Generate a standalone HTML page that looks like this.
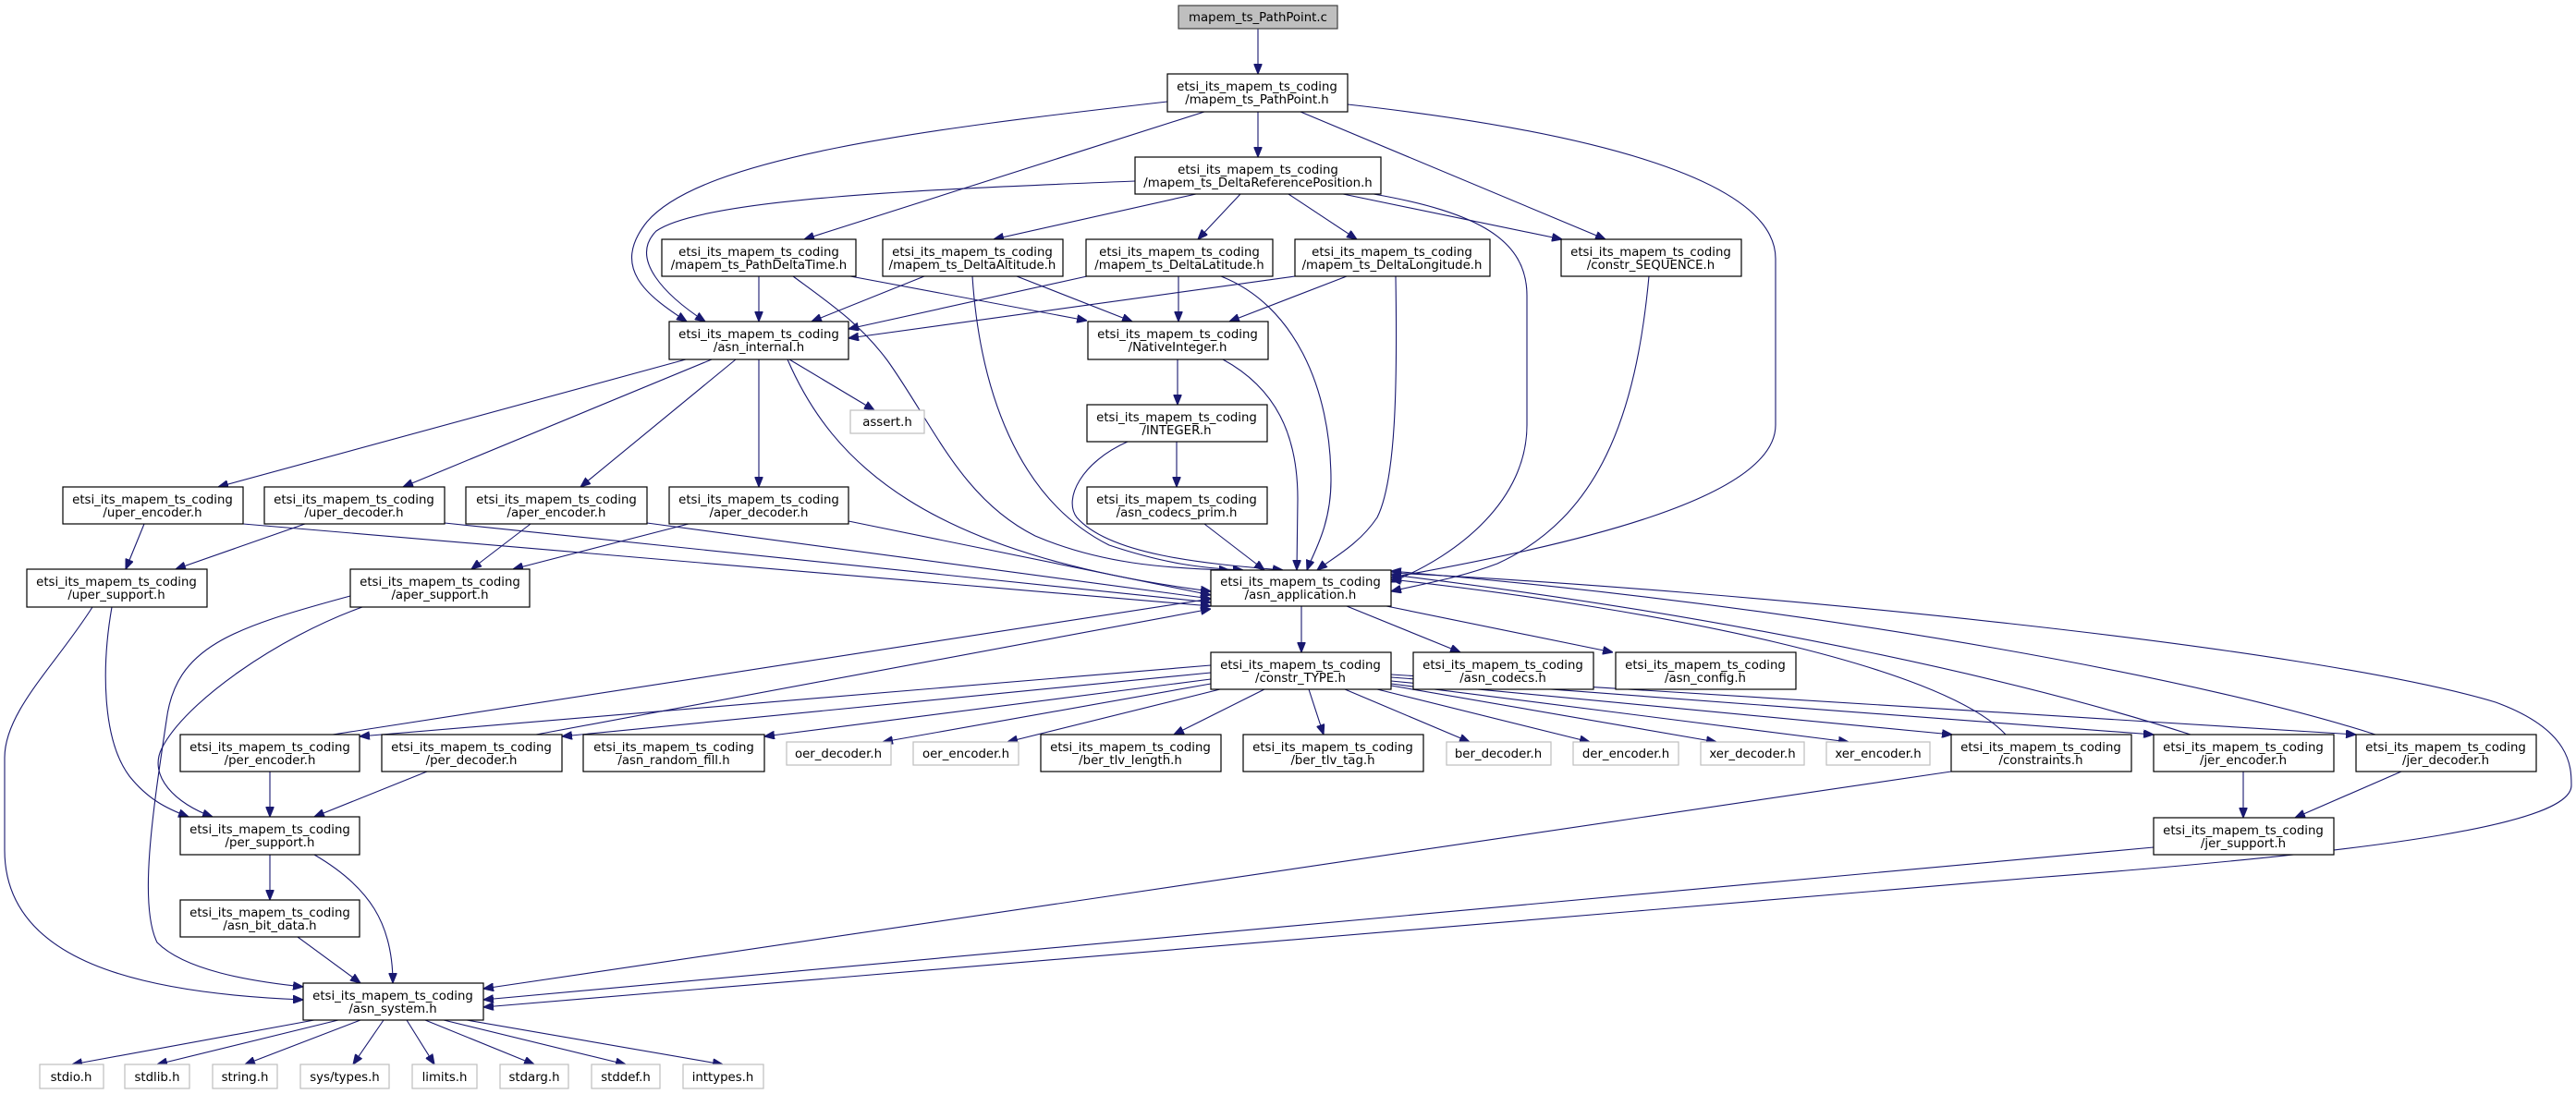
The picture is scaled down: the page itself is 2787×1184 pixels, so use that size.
<!DOCTYPE html>
<html><head><meta charset="utf-8"><style>
html,body{margin:0;padding:0;background:#fff}
svg{display:block}
text{font-family:"DejaVu Sans","Liberation Sans",sans-serif;font-size:13.3px;fill:#000;text-anchor:middle}
.b{fill:#fff;stroke:#000;stroke-width:1.2}
.g{fill:#fff;stroke:#bfbfbf;stroke-width:1.2}
.e{fill:none;stroke:#191970;stroke-width:1.1}
</style></head><body>
<svg width="2787" height="1184" viewBox="0 0 2787 1184" xmlns="http://www.w3.org/2000/svg">
<defs><marker id="a" viewBox="0 0 10 8" refX="10" refY="4" markerWidth="11" markerHeight="9" markerUnits="userSpaceOnUse" orient="auto"><path d="M0,0L10,4L0,8z" fill="#191970" stroke="#191970"/></marker></defs>
<g class="e" marker-end="url(#a)">
<path d="M1361,31L1361,80"/>
<path d="M1361,121L1361,170"/>
<path d="M1303,121L870,259"/>
<path d="M1263,110C1000,140 760,170 700,240C660,290 700,320 743,348"/>
<path d="M1407,121L1737,259"/>
<path d="M1458,113C1700,140 1921,190 1921,280L1921,460C1921,540 1700,590 1505,625"/>
<path d="M1228,196C1000,205 760,215 710,250C680,280 720,320 763,348"/>
<path d="M1294,210L1075,259"/>
<path d="M1342,210L1296,259"/>
<path d="M1394,210L1468,259"/>
<path d="M1453,210L1690,259"/>
<path d="M1486,210C1600,230 1652,260 1652,320L1652,460C1652,540 1580,600 1505,630"/>
<path d="M821,299L821,348"/>
<path d="M920,299L1176,347"/>
<path d="M858,299C900,330 930,350 960,390C1010,460 1040,540 1120,580C1190,610 1260,615 1330,617"/>
<path d="M1000,299L878,348"/>
<path d="M1100,299L1225,348"/>
<path d="M1052,299C1060,420 1100,540 1200,590C1260,610 1300,615 1345,617"/>
<path d="M1176,299L918,356"/>
<path d="M1275,299L1275,348"/>
<path d="M1321,299C1400,330 1440,420 1440,520C1440,570 1420,600 1414,617"/>
<path d="M1401,299L918,366"/>
<path d="M1457,299L1330,348"/>
<path d="M1510,299C1512,420 1510,520 1490,560C1470,590 1440,605 1425,617"/>
<path d="M1274,389L1274,438"/>
<path d="M1323,389C1380,420 1404,470 1404,540L1403,617"/>
<path d="M1273,478L1273,527"/>
<path d="M1220,478C1170,500 1150,540 1165,560C1200,600 1300,610 1388,617"/>
<path d="M1303,567L1368,617"/>
<path d="M1784,299C1770,450 1730,560 1620,610C1580,625 1540,632 1505,640"/>
<path d="M854,389L946,444"/>
<path d="M742,389L236,527"/>
<path d="M770,389L436,527"/>
<path d="M796,389L628,527"/>
<path d="M821,389L821,527"/>
<path d="M852,389C900,500 1000,600 1310,640"/>
<path d="M156,567L136,616"/>
<path d="M263,567L1310,656"/>
<path d="M330,567L190,616"/>
<path d="M481,566L1310,652"/>
<path d="M574,567L510,616"/>
<path d="M700,566L1310,648"/>
<path d="M745,567L555,616"/>
<path d="M918,564L1310,644"/>
<path d="M121,657C110,720 110,800 140,840C160,865 180,875 204,884"/>
<path d="M100,657C60,720 5,770 5,820L5,920C5,1040 150,1075 328,1082"/>
<path d="M392,657C300,690 200,760 175,810C160,840 190,870 230,884"/>
<path d="M379,645C250,680 190,700 180,780C165,880 150,980 170,1020C200,1050 270,1062 328,1068"/>
<path d="M1408,656L1408,706"/>
<path d="M1457,656L1580,706"/>
<path d="M1500,656L1745,706"/>
<path d="M1310,720L389,797"/>
<path d="M1310,728L608,797"/>
<path d="M1310,735L827,797"/>
<path d="M1310,740L955,803"/>
<path d="M1320,746L1090,803"/>
<path d="M1368,746L1270,795"/>
<path d="M1416,746L1432,795"/>
<path d="M1455,746L1590,803"/>
<path d="M1490,746L1720,803"/>
<path d="M1505,742L1857,803"/>
<path d="M1505,740L2000,803"/>
<path d="M1505,737L2112,795"/>
<path d="M1505,733L2330,795"/>
<path d="M1505,730L2549,795"/>
<path d="M360,795L1310,648"/>
<path d="M580,795L1310,659"/>
<path d="M292,835L292,884"/>
<path d="M462,835L340,884"/>
<path d="M292,925L292,974"/>
<path d="M340,925C400,960 425,1000 425,1064"/>
<path d="M322,1014L390,1064"/>
<path d="M2170,795C2100,720 1800,660 1505,627"/>
<path d="M2370,795C2200,740 1900,670 1505,622"/>
<path d="M2570,795C2400,740 2000,660 1505,618"/>
<path d="M2427,835L2427,885"/>
<path d="M2598,835L2483,885"/>
<path d="M2111,835L523,1070"/>
<path d="M2330,917L523,1082"/>
<path d="M1505,620C1900,640 2500,700 2700,760C2782,790 2782,830 2782,850C2782,890 2600,920 2200,950C1600,1000 900,1060 523,1090"/>
<path d="M340,1104L78,1152"/>
<path d="M366,1104L170,1152"/>
<path d="M390,1104L265,1152"/>
<path d="M415,1104L382,1152"/>
<path d="M440,1104L470,1152"/>
<path d="M460,1104L578,1152"/>
<path d="M480,1104L677,1152"/>
<path d="M505,1104L782,1152"/>
</g>
<rect x="1275" y="6" width="172" height="25" fill="#bfbfbf" stroke="#404040" stroke-width="1.2"/><text x="1361" y="23">mapem_ts_PathPoint.c</text>
<g>
<rect class="b" x="1263" y="80" width="195" height="41"/><text x="1360" y="98">etsi_its_mapem_ts_coding</text><text x="1360" y="112">/mapem_ts_PathPoint.h</text>
<rect class="b" x="1228" y="170" width="266" height="40"/><text x="1361" y="188">etsi_its_mapem_ts_coding</text><text x="1361" y="202">/mapem_ts_DeltaReferencePosition.h</text>
<rect class="b" x="716" y="259" width="210" height="40"/><text x="821" y="277">etsi_its_mapem_ts_coding</text><text x="821" y="291">/mapem_ts_PathDeltaTime.h</text>
<rect class="b" x="955" y="259" width="195" height="40"/><text x="1052" y="277">etsi_its_mapem_ts_coding</text><text x="1052" y="291">/mapem_ts_DeltaAltitude.h</text>
<rect class="b" x="1175" y="259" width="202" height="40"/><text x="1276" y="277">etsi_its_mapem_ts_coding</text><text x="1276" y="291">/mapem_ts_DeltaLatitude.h</text>
<rect class="b" x="1401" y="259" width="211" height="40"/><text x="1506" y="277">etsi_its_mapem_ts_coding</text><text x="1506" y="291">/mapem_ts_DeltaLongitude.h</text>
<rect class="b" x="1689" y="259" width="195" height="40"/><text x="1786" y="277">etsi_its_mapem_ts_coding</text><text x="1786" y="291">/constr_SEQUENCE.h</text>
<rect class="b" x="724" y="348" width="194" height="41"/><text x="821" y="366">etsi_its_mapem_ts_coding</text><text x="821" y="380">/asn_internal.h</text>
<rect class="b" x="1177" y="348" width="195" height="41"/><text x="1274" y="366">etsi_its_mapem_ts_coding</text><text x="1274" y="380">/NativeInteger.h</text>
<rect class="g" x="920" y="444" width="80" height="25"/><text x="960" y="461">assert.h</text>
<rect class="b" x="1176" y="438" width="195" height="40"/><text x="1273" y="456">etsi_its_mapem_ts_coding</text><text x="1273" y="470">/INTEGER.h</text>
<rect class="b" x="1176" y="527" width="195" height="40"/><text x="1273" y="545">etsi_its_mapem_ts_coding</text><text x="1273" y="559">/asn_codecs_prim.h</text>
<rect class="b" x="68" y="527" width="195" height="40"/><text x="165" y="545">etsi_its_mapem_ts_coding</text><text x="165" y="559">/uper_encoder.h</text>
<rect class="b" x="286" y="527" width="195" height="40"/><text x="383" y="545">etsi_its_mapem_ts_coding</text><text x="383" y="559">/uper_decoder.h</text>
<rect class="b" x="504" y="527" width="196" height="40"/><text x="602" y="545">etsi_its_mapem_ts_coding</text><text x="602" y="559">/aper_encoder.h</text>
<rect class="b" x="724" y="527" width="194" height="40"/><text x="821" y="545">etsi_its_mapem_ts_coding</text><text x="821" y="559">/aper_decoder.h</text>
<rect class="b" x="29" y="616" width="195" height="41"/><text x="126" y="634">etsi_its_mapem_ts_coding</text><text x="126" y="648">/uper_support.h</text>
<rect class="b" x="379" y="616" width="194" height="41"/><text x="476" y="634">etsi_its_mapem_ts_coding</text><text x="476" y="648">/aper_support.h</text>
<rect class="b" x="1310" y="617" width="195" height="39"/><text x="1407" y="634">etsi_its_mapem_ts_coding</text><text x="1407" y="648">/asn_application.h</text>
<rect class="b" x="1310" y="706" width="195" height="40"/><text x="1407" y="724">etsi_its_mapem_ts_coding</text><text x="1407" y="738">/constr_TYPE.h</text>
<rect class="b" x="1529" y="706" width="195" height="40"/><text x="1626" y="724">etsi_its_mapem_ts_coding</text><text x="1626" y="738">/asn_codecs.h</text>
<rect class="b" x="1748" y="706" width="195" height="40"/><text x="1845" y="724">etsi_its_mapem_ts_coding</text><text x="1845" y="738">/asn_config.h</text>
<rect class="b" x="195" y="795" width="194" height="40"/><text x="292" y="813">etsi_its_mapem_ts_coding</text><text x="292" y="827">/per_encoder.h</text>
<rect class="b" x="413" y="795" width="195" height="40"/><text x="510" y="813">etsi_its_mapem_ts_coding</text><text x="510" y="827">/per_decoder.h</text>
<rect class="b" x="631" y="795" width="196" height="40"/><text x="729" y="813">etsi_its_mapem_ts_coding</text><text x="729" y="827">/asn_random_fill.h</text>
<rect class="g" x="851" y="803" width="113" height="25"/><text x="907" y="820">oer_decoder.h</text>
<rect class="g" x="988" y="803" width="114" height="25"/><text x="1045" y="820">oer_encoder.h</text>
<rect class="b" x="1126" y="795" width="195" height="40"/><text x="1223" y="813">etsi_its_mapem_ts_coding</text><text x="1223" y="827">/ber_tlv_length.h</text>
<rect class="b" x="1345" y="795" width="195" height="40"/><text x="1442" y="813">etsi_its_mapem_ts_coding</text><text x="1442" y="827">/ber_tlv_tag.h</text>
<rect class="g" x="1565" y="803" width="113" height="25"/><text x="1621" y="820">ber_decoder.h</text>
<rect class="g" x="1702" y="803" width="114" height="25"/><text x="1759" y="820">der_encoder.h</text>
<rect class="g" x="1840" y="803" width="112" height="25"/><text x="1896" y="820">xer_decoder.h</text>
<rect class="g" x="1976" y="803" width="112" height="25"/><text x="2032" y="820">xer_encoder.h</text>
<rect class="b" x="2111" y="795" width="195" height="40"/><text x="2208" y="813">etsi_its_mapem_ts_coding</text><text x="2208" y="827">/constraints.h</text>
<rect class="b" x="2330" y="795" width="195" height="40"/><text x="2427" y="813">etsi_its_mapem_ts_coding</text><text x="2427" y="827">/jer_encoder.h</text>
<rect class="b" x="2549" y="795" width="195" height="40"/><text x="2646" y="813">etsi_its_mapem_ts_coding</text><text x="2646" y="827">/jer_decoder.h</text>
<rect class="b" x="195" y="884" width="194" height="41"/><text x="292" y="902">etsi_its_mapem_ts_coding</text><text x="292" y="916">/per_support.h</text>
<rect class="b" x="2330" y="885" width="195" height="40"/><text x="2427" y="903">etsi_its_mapem_ts_coding</text><text x="2427" y="917">/jer_support.h</text>
<rect class="b" x="195" y="974" width="194" height="40"/><text x="292" y="992">etsi_its_mapem_ts_coding</text><text x="292" y="1006">/asn_bit_data.h</text>
<rect class="b" x="328" y="1064" width="195" height="40"/><text x="425" y="1082">etsi_its_mapem_ts_coding</text><text x="425" y="1096">/asn_system.h</text>
<rect class="g" x="43" y="1152" width="69" height="26"/><text x="77" y="1170">stdio.h</text>
<rect class="g" x="135" y="1152" width="70" height="26"/><text x="170" y="1170">stdlib.h</text>
<rect class="g" x="230" y="1152" width="70" height="26"/><text x="265" y="1170">string.h</text>
<rect class="g" x="325" y="1152" width="96" height="26"/><text x="373" y="1170">sys/types.h</text>
<rect class="g" x="446" y="1152" width="70" height="26"/><text x="481" y="1170">limits.h</text>
<rect class="g" x="541" y="1152" width="74" height="26"/><text x="578" y="1170">stdarg.h</text>
<rect class="g" x="640" y="1152" width="74" height="26"/><text x="677" y="1170">stddef.h</text>
<rect class="g" x="739" y="1152" width="87" height="26"/><text x="782" y="1170">inttypes.h</text>
</g>
</svg>
</body></html>
